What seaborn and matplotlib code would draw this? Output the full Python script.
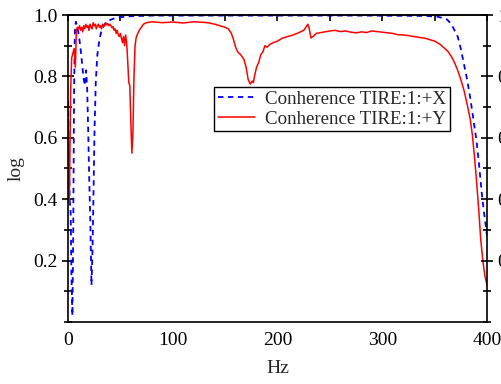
import numpy as np
import pandas as pd
import matplotlib
matplotlib.use("Agg")
import matplotlib.pyplot as plt
import seaborn as sns
from matplotlib.ticker import MultipleLocator

# Coherence TIRE:1:+X (blue dashed)
hz_x = [0, 0.8, 1.6, 2.5, 3.3, 4.2, 5.0, 5.8, 6.6, 7.5, 9, 10.5, 12, 13.5, 15, 16.2, 17.3, 18.3,
        19.3, 20.3, 21.3, 22.4, 23.3, 24.3, 25.3, 26.5, 28, 30, 32, 34.5, 37, 41, 45, 50, 60, 80,
        120, 200, 280, 340, 352, 358, 362, 366, 369, 372, 375, 378, 381, 384, 387, 390, 392.5,
        395, 397, 399, 400]
coh_x = [0.72, 0.55, 0.40, 0.36, 0.15, 0.02, 0.30, 0.75, 0.95, 0.978, 0.96, 0.93, 0.89, 0.84, 0.79,
         0.77, 0.82, 0.76, 0.62, 0.46, 0.33, 0.12, 0.22, 0.41, 0.62, 0.78, 0.87, 0.92, 0.95, 0.968,
         0.978, 0.985, 0.99, 0.993, 0.996, 0.998, 0.998, 0.998, 0.998, 0.997, 0.995, 0.99, 0.985,
         0.97, 0.95, 0.93, 0.89, 0.84, 0.79, 0.73, 0.66, 0.59, 0.51, 0.42, 0.36, 0.31, 0.28]

# Coherence TIRE:1:+Y (red solid)
hz_y = [0, 0.5, 1.0, 1.5, 2.5, 3.5, 5, 6, 7, 8, 9, 10, 11, 12, 13, 14, 15, 16, 17, 18, 19, 20,
        21, 22, 23, 24, 25, 26, 27, 28, 29, 30, 31, 32, 33, 34, 35, 36, 37, 38, 39, 40, 41, 42,
        43, 44, 45, 46, 47, 48, 49, 50, 51, 52, 53, 54, 55, 56, 57, 58, 59, 60, 61, 62, 63, 64,
        65, 66, 68, 70, 72, 75, 80, 90, 100, 110, 120, 130, 135, 140, 145, 150, 153, 156, 158,
        160, 162, 165, 168, 170, 172, 174, 176, 177, 178, 180, 182, 184, 186, 188, 190, 193, 196,
        200, 205, 210, 215, 220, 225, 229, 230, 232, 234, 237, 240, 245, 250, 255, 260, 265, 270,
        275, 280, 285, 290, 295, 300, 305, 310, 315, 320, 325, 330, 335, 340, 345, 350, 355, 360,
        363, 366, 369, 372, 375, 378, 381, 384, 386, 388, 390, 392, 394, 396, 398, 400]
coh_y = [0.66, 0.52, 0.39, 0.45, 0.75, 0.86, 0.88, 0.89, 0.83, 0.95, 0.96, 0.955, 0.965, 0.95,
         0.96, 0.945, 0.965, 0.955, 0.97, 0.96, 0.965, 0.95, 0.97, 0.96, 0.955, 0.975, 0.965,
         0.97, 0.955, 0.965, 0.97, 0.96, 0.965, 0.955, 0.97, 0.962, 0.965, 0.975, 0.968, 0.972,
         0.965, 0.97, 0.965, 0.958, 0.962, 0.95, 0.955, 0.94, 0.95, 0.935, 0.93, 0.94, 0.925,
         0.91, 0.93, 0.90, 0.935, 0.91, 0.85, 0.78, 0.77, 0.65, 0.55, 0.62, 0.80, 0.90, 0.925,
         0.935, 0.95, 0.96, 0.97, 0.975, 0.978, 0.975, 0.977, 0.974, 0.978, 0.976, 0.974, 0.97,
         0.965, 0.96, 0.955, 0.94, 0.92, 0.895, 0.88, 0.87, 0.855, 0.83, 0.79, 0.775, 0.785,
         0.78, 0.80, 0.83, 0.845, 0.87, 0.88, 0.90, 0.895, 0.905, 0.91, 0.915, 0.925, 0.93,
         0.935, 0.942, 0.95, 0.97, 0.96, 0.925, 0.93, 0.94, 0.942, 0.945, 0.948, 0.95, 0.946,
         0.948, 0.944, 0.942, 0.945, 0.943, 0.948, 0.946, 0.944, 0.942, 0.94, 0.936, 0.935,
         0.933, 0.93, 0.927, 0.925, 0.92, 0.915, 0.905, 0.89, 0.88, 0.865, 0.845, 0.82, 0.79,
         0.755, 0.71, 0.66, 0.61, 0.54, 0.46, 0.37, 0.27, 0.20, 0.15, 0.12]

label_x = "Conherence TIRE:1:+X"
label_y = "Conherence TIRE:1:+Y"

sns.set_theme(style="white")
plt.rcParams['font.family'] = ['Liberation Serif', 'DejaVu Serif']
plt.rcParams['font.size'] = 14

fig = plt.figure(figsize=(5.02, 3.84), dpi=100)
ax = fig.add_axes([68 / 502, 1 - 322 / 384, (487 - 68) / 502, (322 - 15) / 384])

df_x = pd.DataFrame({"Hz": hz_x, "coh": coh_x})
df_y = pd.DataFrame({"Hz": hz_y, "coh": coh_y})
sns.lineplot(data=df_x, x="Hz", y="coh", ax=ax, color="#0000ff", lw=1.3,
             dashes=False, label=label_x).lines[0].set_dashes((3, 2.5))
sns.lineplot(data=df_y, x="Hz", y="coh", ax=ax, color="#ff0000", lw=1.1, label=label_y)

ax.set_xlim(0, 400)
ax.set_ylim(0, 1.0)
ax.set_xticks([0, 100, 200, 300, 400])
ax.set_yticks([0.2, 0.4, 0.6, 0.8, 1.0])
ax.xaxis.set_minor_locator(MultipleLocator(50))
ax.yaxis.set_minor_locator(MultipleLocator(0.1))
ax.set_xlabel("Hz", fontsize=14, labelpad=8)
ax.set_ylabel("log", fontsize=14, labelpad=6)

for s in ax.spines.values():
    s.set_color("black")
    s.set_linewidth(1.2)

ax.tick_params(axis="both", which="both", direction="inout", colors="black",
               labelsize=14, width=1.2)
ax.tick_params(which="major", length=8)
ax.tick_params(which="minor", length=6)
ax.tick_params(axis="x", which="major", pad=3)

# top ticks point inward only
top = ax.secondary_xaxis("top")
top.set_xticks([0, 100, 200, 300, 400])
top.xaxis.set_minor_locator(MultipleLocator(50))
top.tick_params(which="both", direction="in", length=4, width=1.2, colors="black",
                labeltop=False)
top.spines["top"].set_linewidth(1.2)

# right axis with the same scale
ax2 = ax.twinx()
ax2.set_ylim(ax.get_ylim())
ax2.set_yticks([0.2, 0.4, 0.6, 0.8, 1.0])
ax2.set_yticklabels(["0.2", "0.4", "0.6", "0.8", "1.0"])
ax2.yaxis.set_minor_locator(MultipleLocator(0.1))
ax2.tick_params(axis="y", which="both", direction="inout", colors="black",
                labelsize=14, width=1.2)
ax2.tick_params(which="major", length=8)
ax2.tick_params(which="minor", length=6)
ax2.grid(False)
for s in ax2.spines.values():
    s.set_visible(False)

leg = ax.legend(loc="upper left", bbox_to_anchor=(0.348, 0.767), borderaxespad=0,
                fancybox=False, framealpha=1, edgecolor="black", fontsize=13.6,
                handlelength=2.0, handletextpad=0.5, labelspacing=0.15, borderpad=0.2)
leg.get_frame().set_linewidth(1.0)

fig.savefig("out.png", dpi=100)
